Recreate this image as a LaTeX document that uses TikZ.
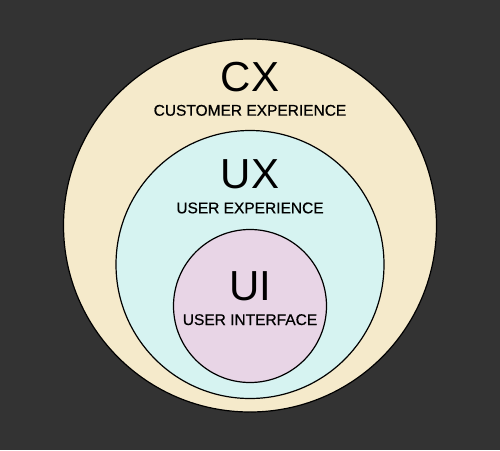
\documentclass[tikz,border=0pt]{standalone}
\usepackage{fontspec}
\setmainfont{Liberation Sans}
\newfontfamily\labelfont[FakeBold=0.6]{Liberation Sans}
\definecolor{bgc}{HTML}{333333}
\definecolor{cxc}{HTML}{F5EACB}
\definecolor{uxc}{HTML}{D6F3F1}
\definecolor{uic}{HTML}{E8D5E6}
\begin{document}
\begin{tikzpicture}[x=1pt,y=-1pt,
  ring/.style={circle,draw=black,line width=1.2pt,inner sep=0pt},
  big/.style={font=\fontsize{42}{42}\selectfont,inner sep=0pt,anchor=base},
  small/.style={font=\labelfont\fontsize{15.5}{15.5}\selectfont,inner sep=0pt,anchor=base}]
\fill[bgc] (0,0) rectangle (500,450);
\useasboundingbox (0,0) rectangle (500,450);
\node[ring,fill=cxc,minimum size=373pt] (cx) at (250,225.5) {};
\node[ring,fill=uxc,minimum size=268pt] (ux) at (250,264.5) {};
\node[ring,fill=uic,minimum size=153pt] (ui) at (250,306) {};
\node[big] (cxt) at (250,91.7) {CX};
\node[small] (cxs) at (250,115.7) {CUSTOMER EXPERIENCE};
\node[big] (uxt) at (250,188.7) {UX};
\node[small] (uxs) at (250,213.3) {USER EXPERIENCE};
\node[big] (uit) at (250,300) {UI};
\node[small] (uis) at (250,325) {USER INTERFACE};
\end{tikzpicture}
\end{document}
